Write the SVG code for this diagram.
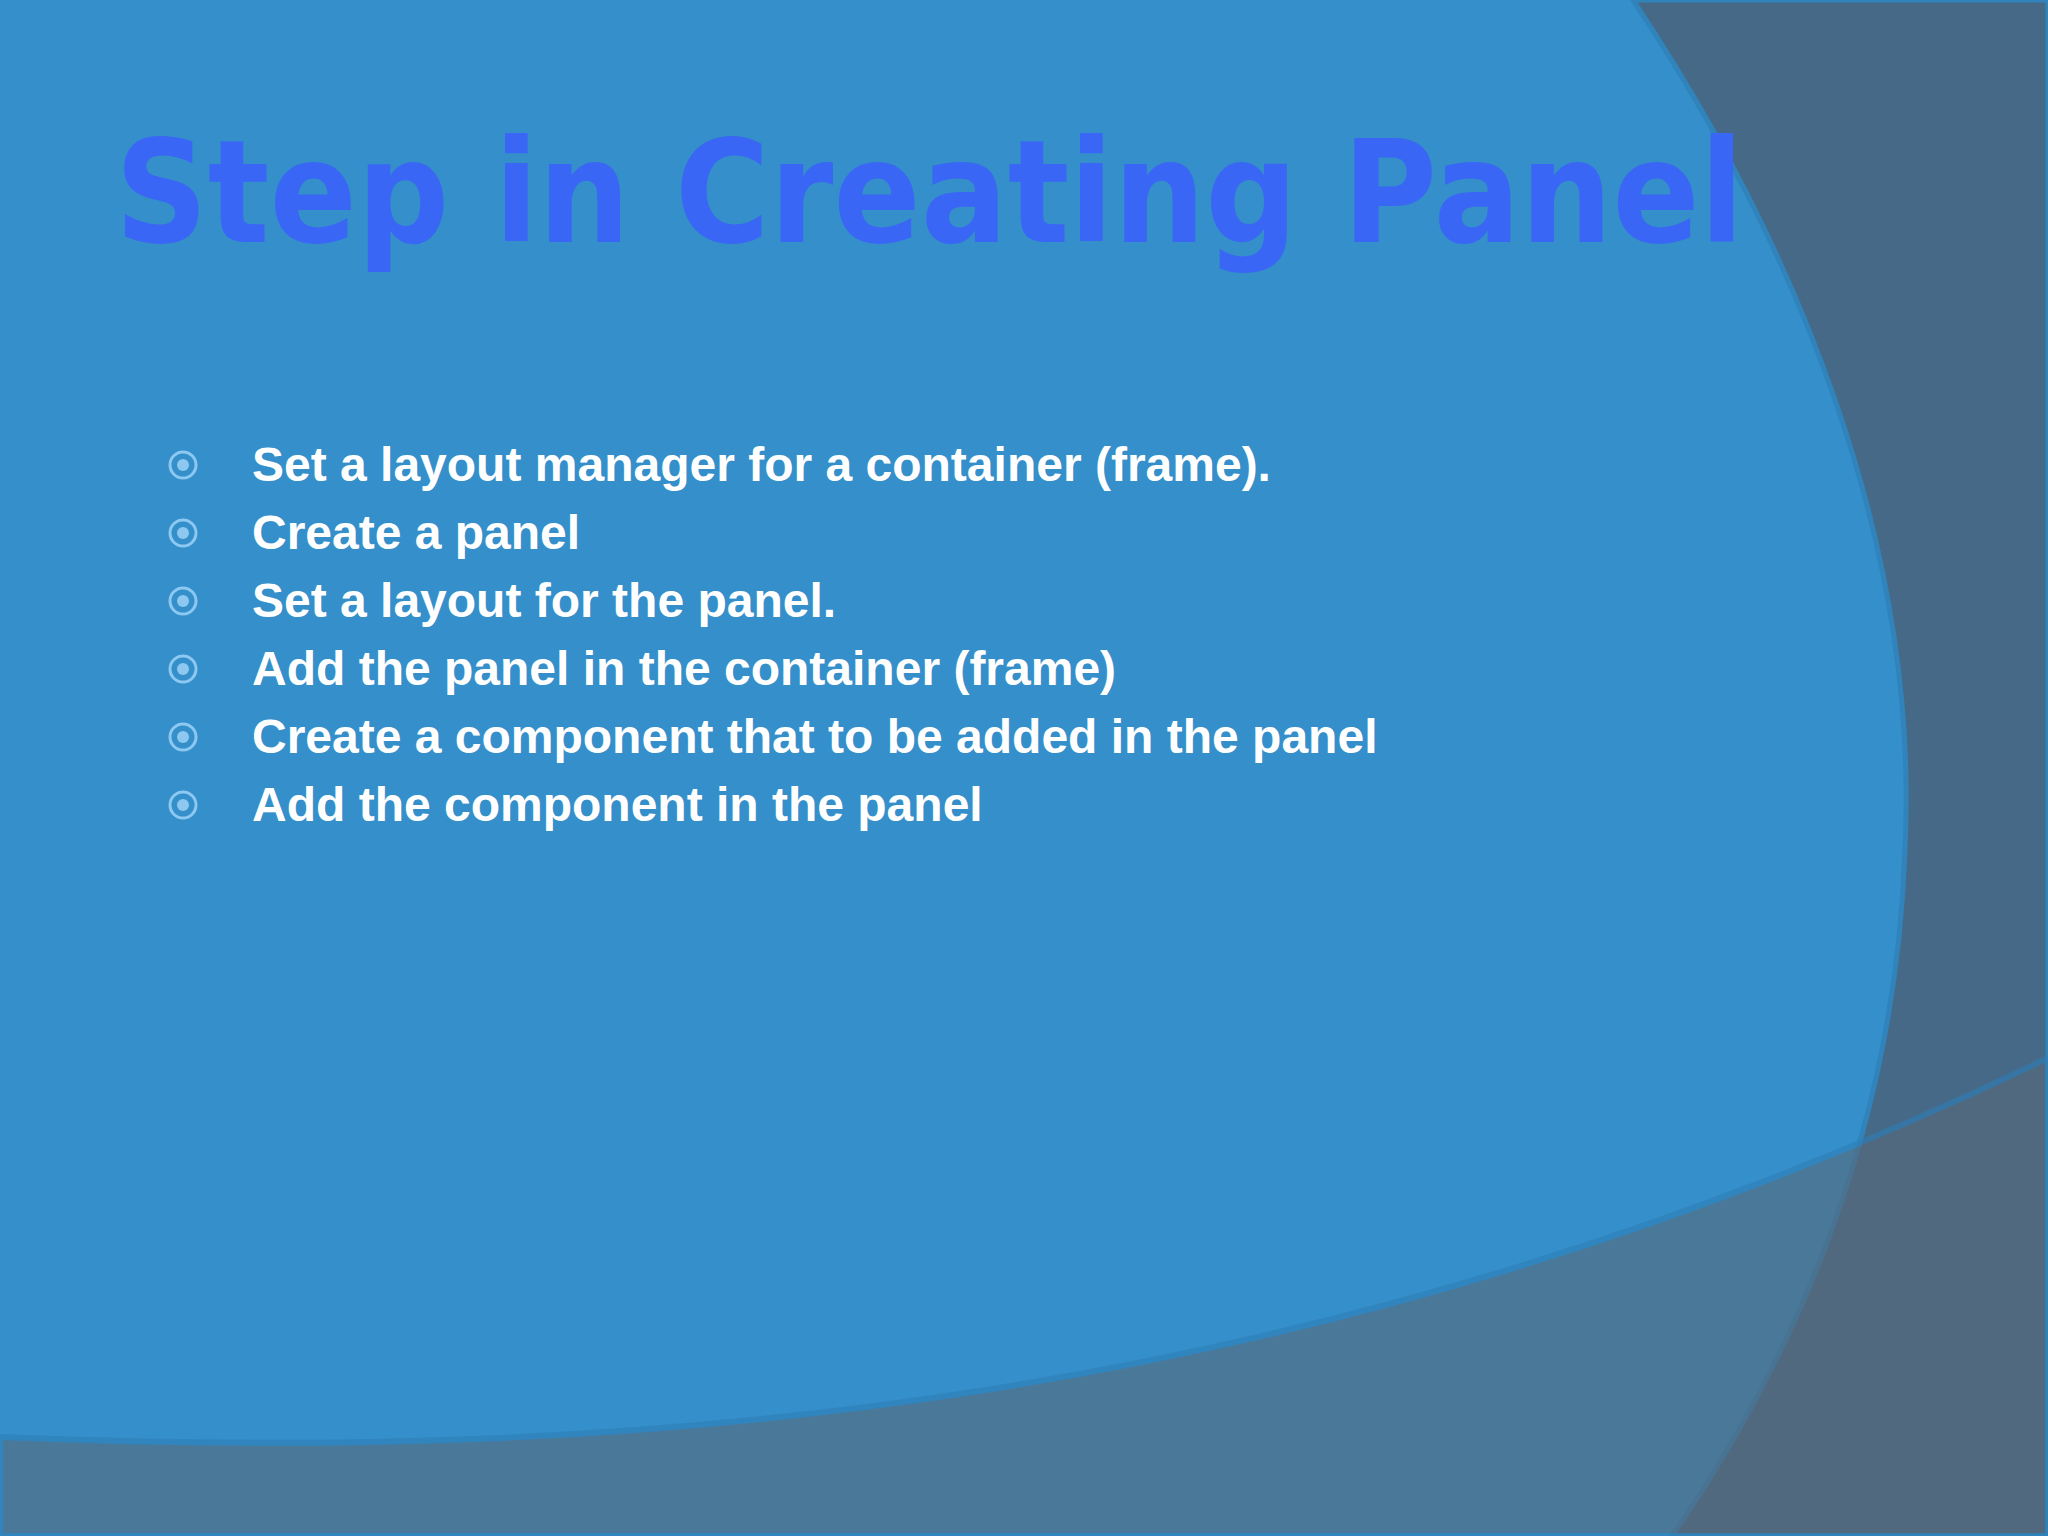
<svg xmlns="http://www.w3.org/2000/svg" width="2048" height="1536" viewBox="0 0 2048 1536">
<style>
.b{font-family:"Liberation Sans",Arial,sans-serif;font-weight:bold;font-size:48px;fill:#ffffff}
.d{fill:none;stroke:#8cc8f0;stroke-width:3}
.e{fill:#8cc8f0}
</style>
<rect width="2048" height="1536" fill="#348fca"/>
<path d="M1633,0 C1800,250 1920,550 1905,850 C1895,1150 1780,1380 1672,1536 L2048,1536 L2048,0 Z" fill="#4a5f73" opacity="0.78" stroke="#2f80b8" stroke-width="5"/>
<path d="M0,1437 C600,1462 1300,1420 2048,1058 L2048,1536 L0,1536 Z" fill="#5a6a7a" opacity="0.6" stroke="#2f80b8" stroke-width="6"/>
<text x="115" y="242" font-family="'DejaVu Sans',Verdana,sans-serif" font-weight="bold" font-size="142" fill="#3a66f5" textLength="1629" lengthAdjust="spacingAndGlyphs">Step in Creating Panel</text>
<g id="bullets">
<circle class="d" cx="183" cy="465" r="13"/><circle class="e" cx="183" cy="465" r="6"/>
<circle class="d" cx="183" cy="533" r="13"/><circle class="e" cx="183" cy="533" r="6"/>
<circle class="d" cx="183" cy="601" r="13"/><circle class="e" cx="183" cy="601" r="6"/>
<circle class="d" cx="183" cy="669" r="13"/><circle class="e" cx="183" cy="669" r="6"/>
<circle class="d" cx="183" cy="737" r="13"/><circle class="e" cx="183" cy="737" r="6"/>
<circle class="d" cx="183" cy="805" r="13"/><circle class="e" cx="183" cy="805" r="6"/>
</g>
<text class="b" x="252" y="481">Set a layout manager for a container (frame).</text>
<text class="b" x="252" y="549">Create a panel</text>
<text class="b" x="252" y="617">Set a layout for the panel.</text>
<text class="b" x="252" y="685">Add the panel in the container (frame)</text>
<text class="b" x="252" y="753">Create a component that to be added in the panel</text>
<text class="b" x="252" y="821">Add the component in the panel</text>
</svg>
